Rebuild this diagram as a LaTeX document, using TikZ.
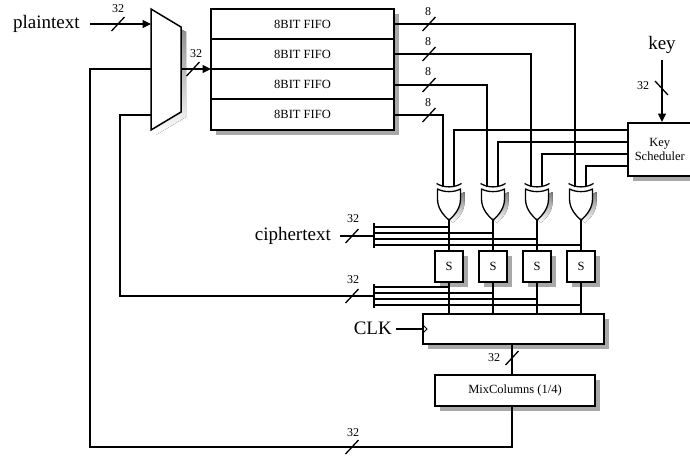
\documentclass[tikz,border=0pt]{standalone}
\usepackage{fontspec}
\setmainfont{Liberation Serif}
\usetikzlibrary{arrows.meta,shadows}
\definecolor{shade}{gray}{0.66}
\tikzset{
  wire/.style={line width=1.5pt,draw=black},
  arr/.style={wire,-{Triangle[length=8.5pt,width=8pt]}},
  tick/.style={line width=1.3pt,draw=black},
  box/.style={draw=black,line width=1.5pt,fill=white,inner sep=0pt,align=center,font=\fontsize{12.5}{14.5}\selectfont,
    general shadow={shadow xshift=5pt,shadow yshift=-5pt,fill=shade,opacity=1}},
  cell/.style={draw=black,line width=1.5pt,fill=white,inner sep=0pt,align=center,font=\fontsize{12.5}{14.5}\selectfont},
  small/.style={inner sep=0pt,font=\fontsize{12}{14}\selectfont},
  big/.style={inner sep=0pt,font=\fontsize{19}{22}\selectfont},
}
\newcommand{\busslash}[2]{\draw[tick] (#1-6.5,#2+7) -- (#1+6.5,#2-7);}
\newcommand{\xorgate}[2]{%
  \coordinate (#1a) at (#2-6,187);
  \coordinate (#1b) at (#2+5,187);
  \coordinate (#1o) at (#2,220);
  \fill[shade,shift={(4,3)}] (#2-11.5,189) .. controls (#2-5,192.5) and (#2+5,192.5) .. (#2+11.5,189)
    -- (#2+11.5,199) .. controls (#2+11.5,208) and (#2+6,215) .. (#2,220)
    .. controls (#2-6,215) and (#2-11.5,208) .. (#2-11.5,199) -- cycle;
  \draw[line width=1.3pt,fill=white,line join=round] (#2-11.5,189) .. controls (#2-5,192.5) and (#2+5,192.5) .. (#2+11.5,189)
    -- (#2+11.5,199) .. controls (#2+11.5,208) and (#2+6,215) .. (#2,220)
    .. controls (#2-6,215) and (#2-11.5,208) .. (#2-11.5,199) -- cycle;
  \draw[line width=1.3pt] (#2-12.5,183.5) .. controls (#2-5,188) and (#2+5,188) .. (#2+12.5,183.5);
}
\begin{document}
\begin{tikzpicture}[x=1pt,y=-1pt]
\useasboundingbox (0,0) rectangle (690,456);
\fill[white] (0,0) rectangle (690,456);

% multiplexer
\fill[shade,shift={(5,5)}] (151,9) -- (181,27) -- (181,112) -- (151,130) -- cycle;
\draw[line width=1.5pt,fill=white] (151,9) coordinate (m1) -- (181,27) coordinate (m2) -- (181,112) coordinate (m3) -- (151,130) coordinate (m4) -- cycle;

% FIFOs
\node[box,minimum width=183pt,minimum height=121pt] (fifo) at (302.5,69.5) {};
\node[cell,minimum width=183pt,minimum height=30pt] (f1) at (302.5,24) {8BIT FIFO};
\node[cell,minimum width=183pt,minimum height=30pt] (f2) at (302.5,54) {8BIT FIFO};
\node[cell,minimum width=183pt,minimum height=30pt] (f3) at (302.5,84) {8BIT FIFO};
\node[cell,minimum width=183pt,minimum height=31pt] (f4) at (302.5,114.5) {8BIT FIFO};

% other boxes
\node[box,minimum width=64pt,minimum height=53pt,anchor=north west] (ks) at (627,122) {Key\\Scheduler};
\node[box,minimum width=28pt,minimum height=31pt] (s1) at (449,266.5) {S};
\node[box,minimum width=28pt,minimum height=31pt] (s2) at (493,266.5) {S};
\node[box,minimum width=28pt,minimum height=31pt] (s3) at (537,266.5) {S};
\node[box,minimum width=28pt,minimum height=31pt] (s4) at (581,266.5) {S};
\node[box,minimum width=181pt,minimum height=30pt] (reg) at (513.5,329) {};
\node[box,minimum width=160pt,minimum height=31pt] (mix) at (515,390.5) {MixColumns (1/4)};

% free ends
\coordinate (pin) at (90,24);
\coordinate (mpin) at (151,24);
\coordinate (mout) at (181,69);
\coordinate (fin) at (211,69);
\coordinate (mfb) at (151,69);
\coordinate (mfb2) at (151,115);
\coordinate (keyin) at (662,60);
\coordinate (busA) at (374,236);
\coordinate (busB) at (374,296);
\coordinate (cin) at (340,236);
\coordinate (clkin) at (396,329);
\coordinate (regout) at (512,344);
\coordinate (mixin) at (512,375);
\coordinate (mixout) at (512,406);

% XOR gates
\xorgate{g1}{449}
\xorgate{g2}{493}
\xorgate{g3}{537}
\xorgate{g4}{581}

% top inputs
\draw[arr] (pin) -- (mpin);
\draw[arr] (mout) -- (fin);
\draw[wire] (mfb) -- (90,69) -- (90,447) -- (512,447) -- (mixout);
\draw[wire] (mfb2) -- (120,115) -- (120,296) -- (busB);
\draw[wire] (regout) -- (mixin);
\draw[arr] (keyin) -- (ks.north -| keyin);

% FIFO to XOR
\draw[wire] (f1.east) -| (g4a);
\draw[wire] (f2.east) -| (g3a);
\draw[wire] ([yshift=-1pt]f3.east) -| (g2a);
\draw[wire] ([yshift=-.5pt]f4.east) -| (g1a);

% key scheduler to XOR
\draw[wire] (627,130) -| (g1b);
\draw[wire] (627,142) -| (g2b);
\draw[wire] (627,154) -| (g3b);
\draw[wire] (627,166) -| (g4b);

% XOR to S, S to register
\foreach \i in {1,2,3,4} {
  \draw[wire] (g\i o) -- (s\i.north);
  \draw[wire] (s\i.south) -- (s\i.south |- reg.north);
}

% buses
\draw[wire] (374,223) -- (374,248);
\draw[wire] (374,284) -- (374,308);
\draw[wire] (cin) -- (busA);
\draw[wire] (340,296) -- (busB);
\draw[wire] (374,227) -- (449,227);
\draw[wire] (374,233) -- (493,233);
\draw[wire] (374,239) -- (537,239);
\draw[wire] (374,245) -- (581,245);
\draw[wire] (374,287) -- (449,287);
\draw[wire] (374,293) -- (493,293);
\draw[wire] (374,299) -- (537,299);
\draw[wire] (374,305) -- (581,305);

% clock
\draw[wire] (clkin) -- (reg.west);
\draw[line width=0.8pt] (423,325) -- (427,329) -- (423,333);

% slashes
\busslash{118}{24}
\busslash{193}{69}
\busslash{429}{24}
\busslash{429}{54}
\busslash{429}{85}
\busslash{429}{115}
\busslash{352}{236}
\busslash{352}{296}
\busslash{512}{358}
\busslash{352}{447}
\draw[tick] (655,81) -- (668,95);

% labels
\node[big,anchor=west] (tplain) at (13,24) {plaintext};
\node[big] (tkey) at (662,45) {key};
\node[big,anchor=east] (tcipher) at (331,236) {ciphertext};
\node[big,anchor=east] (tclk) at (392,328) {CLK};
\node[small] (l1) at (118,9) {32};
\node[small] (l2) at (196,54) {32};
\node[small] (l3) at (428,12) {8};
\node[small] (l4) at (428,42) {8};
\node[small] (l5) at (428,72) {8};
\node[small] (l6) at (428,103) {8};
\node[small] (l7) at (643,86) {32};
\node[small] (l8) at (353,219) {32};
\node[small] (l9) at (353,280) {32};
\node[small] (l10) at (494,358) {32};
\node[small] (l11) at (353,433) {32};
\end{tikzpicture}
\end{document}
